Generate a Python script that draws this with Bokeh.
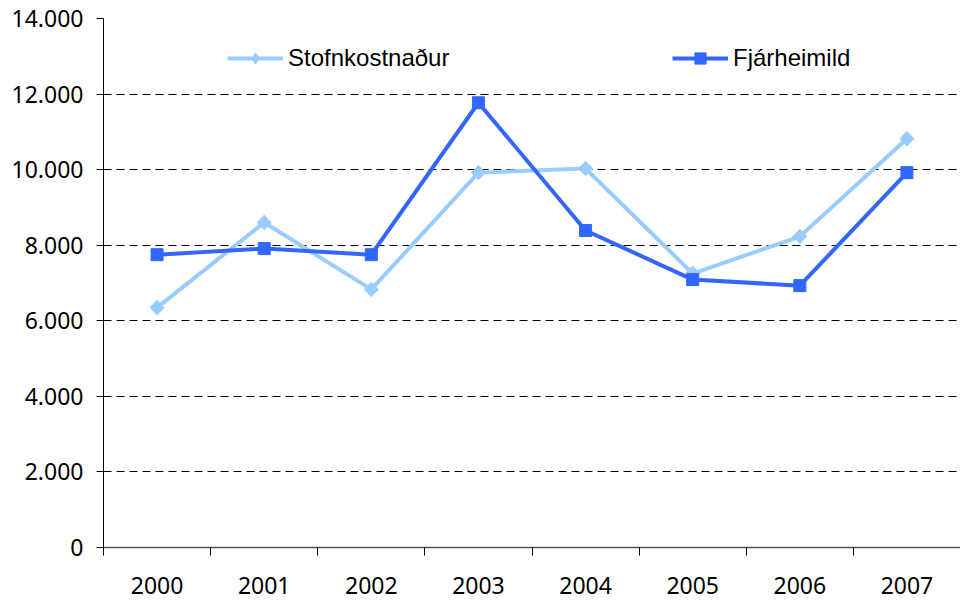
from bokeh.plotting import figure
from bokeh.models import (Range1d, FixedTicker, Legend, LegendItem)
from bokeh.embed import file_html
from bokeh.resources import INLINE
import math

years = ["2000", "2001", "2002", "2003", "2004", "2005", "2006", "2007"]
stofnkostnadur = [6350, 8600, 6830, 9920, 10030, 7250, 8230, 10820]
fjarheimild = [7750, 7910, 7750, 11770, 8390, 7090, 6930, 9920]
y_ticks = [0, 2000, 4000, 6000, 8000, 10000, 12000, 14000]
y_tick_labels = ["0", "2.000", "4.000", "6.000", "8.000", "10.000", "12.000", "14.000"]

LIGHT = "#99CCFF"
DARK = "#3366FF"
TICK_FONT = "Noto Sans"

xs = [i + 0.5 for i in range(len(years))]

p = figure(width=960, height=601, output_backend="svg", toolbar_location=None,
           x_range=Range1d(0, len(years)), y_range=Range1d(0, 14000),
           min_border_left=103, min_border_top=18, min_border_bottom=54,
           min_border_right=0)
p.outline_line_color = None
p.background_fill_color = "white"
p.border_fill_color = "white"

# x axis
p.xaxis.ticker = FixedTicker(ticks=xs, minor_ticks=list(range(len(years) + 1)))
p.xaxis.major_label_overrides = {x: y for x, y in zip(xs, years)}
p.xaxis.major_tick_line_color = None
p.xaxis.major_tick_out = 8
p.xaxis.major_tick_in = 0
p.xaxis.minor_tick_out = 8
p.xaxis.minor_tick_in = 0
p.xaxis.minor_tick_line_color = "#000000"
p.xaxis.axis_line_color = "#555555"
p.xaxis.axis_line_width = 1.5
p.xaxis.major_label_standoff = 21
p.xaxis.major_label_text_font = TICK_FONT
p.xaxis.major_label_text_font_size = "23px"
p.xaxis.major_label_text_color = "#000000"
p.xgrid.grid_line_color = None

# y axis
p.yaxis.ticker = FixedTicker(ticks=y_ticks, minor_ticks=[])
p.yaxis.major_label_overrides = {t: l for t, l in zip(y_ticks, y_tick_labels)}
p.yaxis.major_tick_out = 7
p.yaxis.major_tick_in = 0
p.yaxis.major_tick_line_color = "#000000"
p.yaxis.axis_line_color = "#000000"
p.yaxis.major_label_standoff = 13
p.yaxis.major_label_text_font = TICK_FONT
p.yaxis.major_label_text_font_size = "23px"
p.yaxis.major_label_text_color = "#000000"
p.ygrid.grid_line_color = "#000000"
p.ygrid.grid_line_dash = "8 5"
p.ygrid.grid_line_width = 1

# series
l1 = p.line(xs, stofnkostnadur, line_color=LIGHT, line_width=4)
s1 = p.scatter(xs, stofnkostnadur, marker="square", angle=math.pi / 4, size=10,
               fill_color=LIGHT, line_color=LIGHT)
s1d = p.scatter(xs, stofnkostnadur, marker="diamond", size=14,
                fill_color=LIGHT, line_color=LIGHT)
l2 = p.line(xs, fjarheimild, line_color=DARK, line_width=4)
s2 = p.scatter(xs, fjarheimild, marker="square", size=12,
               fill_color=DARK, line_color=DARK)

def make_legend(label, rends, loc):
    lg = Legend(items=[LegendItem(label=label, renderers=rends)], location=loc,
                orientation="horizontal", border_line_color=None,
                background_fill_alpha=0, padding=0, margin=0,
                glyph_width=56, glyph_height=28, label_height=28,
                label_standoff=5, label_text_font="Liberation Sans",
                label_text_font_size="24px", label_text_color="#000000")
    return lg

p.add_layout(make_legend("Stofnkostnaður", [l1, s1d], (124, 475)), "center")
p.add_layout(make_legend("Fjárheimild", [l2, s2], (569, 475)), "center")

open("out.html", "w").write(file_html(p, INLINE))
